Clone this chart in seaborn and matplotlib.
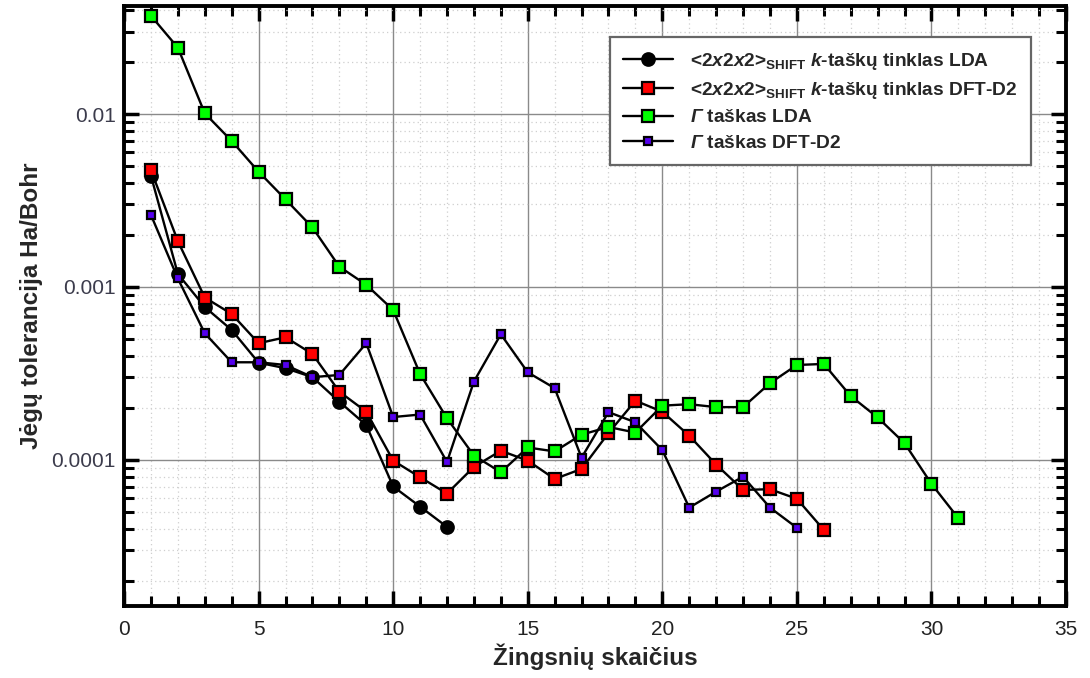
import numpy as np
import pandas as pd
import matplotlib
matplotlib.use("Agg")
import matplotlib.pyplot as plt
import seaborn as sns
from matplotlib.ticker import LogLocator, MultipleLocator, FixedLocator, NullFormatter

# ---- data ----
steps_lda_k = list(range(1, 13))
tol_lda_k = [0.00440, 0.00119, 0.000766, 0.000564, 0.000365, 0.000339, 0.000301,
             0.000217, 0.000159, 0.0000702, 0.0000537, 0.0000410]

steps_d2_k = list(range(1, 27))
tol_d2_k = [0.00474, 0.00184, 0.000869, 0.000698, 0.000473, 0.000512, 0.000410,
            0.000248, 0.000190, 0.0000991, 0.0000794, 0.0000639, 0.0000912, 0.000113,
            0.0000991, 0.0000776, 0.0000887, 0.000143, 0.000220, 0.000190, 0.000138,
            0.0000940, 0.0000671, 0.0000677, 0.0000596, 0.0000394]

steps_lda_g = list(range(1, 32))
tol_lda_g = [0.0370, 0.0242, 0.0101, 0.00699, 0.00464, 0.00321, 0.00221, 0.00131,
             0.00103, 0.000736, 0.000314, 0.000174, 0.000106, 0.0000849, 0.000118,
             0.000112, 0.000140, 0.000155, 0.000144, 0.000206, 0.000210, 0.000202,
             0.000202, 0.000278, 0.000354, 0.000359, 0.000234, 0.000176, 0.000125,
             0.0000727, 0.0000460]

steps_d2_g = list(range(1, 26))
tol_d2_g = [0.00261, 0.00112, 0.000540, 0.000367, 0.000367, 0.000354, 0.000301,
            0.000310, 0.000473, 0.000177, 0.000183, 0.0000973, 0.000284, 0.000533,
            0.000321, 0.000260, 0.000103, 0.000189, 0.000165, 0.000114, 0.0000530,
            0.0000656, 0.0000800, 0.0000530, 0.0000405]

labels = [
    r'<2$\mathit{x}$2$\mathit{x}$2>$_{\mathrm{SHIFT}}$ $\mathit{k}$-taškų tinklas LDA',
    r'<2$\mathit{x}$2$\mathit{x}$2>$_{\mathrm{SHIFT}}$ $\mathit{k}$-taškų tinklas DFT-D2',
    r'$\mathsf{Γ}$ taškas LDA',
    r'$\mathsf{Γ}$ taškas DFT-D2',
]
x_label = 'Žingsnių skaičius'
y_label = 'Jėgų tolerancija Ha/Bohr'
y_ticks = [0.01, 0.001, 0.0001]
y_ticklabels = ['0.01', '0.001', '0.0001']

# ---- style ----
sns.set_theme(style="white")
plt.rcParams['font.family'] = ['Liberation Sans', 'DejaVu Sans']
plt.rcParams['mathtext.fontset'] = 'custom'
plt.rcParams['mathtext.rm'] = 'Liberation Sans:bold'
plt.rcParams['mathtext.it'] = 'Liberation Sans:bold:italic'
plt.rcParams['mathtext.sf'] = 'Liberation Sans:bold:italic'
plt.rcParams['mathtext.bf'] = 'Liberation Sans:bold'

fig = plt.figure(figsize=(10.9, 6.78), dpi=100)
ax = fig.add_axes([0.1138, 0.1062, 0.978 - 0.1138, 0.991 - 0.1062])

series = [
    (steps_lda_k, tol_lda_k, 'o', 'black', 9.0),
    (steps_d2_k, tol_d2_k, 's', '#ff0000', 8.5),
    (steps_lda_g, tol_lda_g, 's', '#00ff00', 8.5),
    (steps_d2_g, tol_d2_g, 's', '#5500ee', 6.0),
]
for (xs, ys, mk, fc, ms), lab in zip(series, labels):
    df = pd.DataFrame({'x': xs, 'y': ys})
    sns.lineplot(data=df, x='x', y='y', ax=ax, color='black', lw=1.7,
                 marker=mk, markersize=ms, markerfacecolor=fc,
                 markeredgecolor='black', markeredgewidth=1.6, label=lab,
                 zorder=3)

ax.set_yscale('log')
ax.set_xlim(0, 35)
ax.set_ylim(1.43e-5, 0.0421)

ax.xaxis.set_major_locator(MultipleLocator(5))
ax.xaxis.set_minor_locator(MultipleLocator(1))
ax.yaxis.set_major_locator(FixedLocator(y_ticks))
ax.yaxis.set_minor_locator(LogLocator(base=10, subs=np.arange(2, 10)))
ax.yaxis.set_minor_formatter(NullFormatter())
ax.set_yticklabels(y_ticklabels)

ax.grid(which='major', color='#8a8a8a', lw=1.0, ls='-', zorder=0)
ax.grid(which='minor', color='#cfcfcf', lw=0.9, ls=(0, (1, 2.5)), zorder=0)

for sp in ax.spines.values():
    sp.set_linewidth(2.8)
    sp.set_color('black')

ax.tick_params(which='major', direction='in', length=11, width=2.5,
               top=True, right=True, bottom=True, left=True, color='black')
ax.tick_params(which='minor', direction='in', length=7, width=2.2,
               top=True, right=True, bottom=True, left=True, color='black')
ax.tick_params(axis='x', which='major', pad=10, labelsize=15, labelcolor='#222222')
ax.tick_params(axis='y', which='major', pad=6, labelsize=15, labelcolor='#3c3c4c')

ax.set_xlabel(x_label, fontsize=17.5, fontweight='bold', family=['Liberation Sans', 'DejaVu Sans'],
              labelpad=3)
ax.set_ylabel(y_label, fontsize=17.5, fontweight='bold', family=['Liberation Sans', 'DejaVu Sans'],
              labelpad=6)

leg = ax.legend(loc='upper right', bbox_to_anchor=(0.963, 0.948), frameon=True,
                fancybox=False, shadow=False, framealpha=1, edgecolor='#666666',
                prop={'family': 'Liberation Sans', 'weight': 'bold', 'size': 13.8},
                handlelength=2.6, handletextpad=0.9, borderpad=0.7, labelspacing=0.42,
                borderaxespad=0)
leg.get_frame().set_linewidth(1.6)
leg.set_zorder(5)

fig.savefig('out.png', dpi=100)
